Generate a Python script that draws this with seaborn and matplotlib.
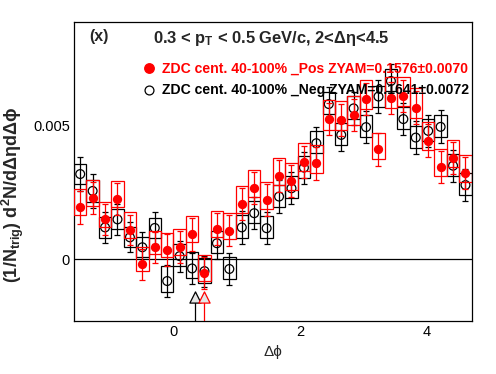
import numpy as np
import matplotlib
matplotlib.use("Agg")
import matplotlib.pyplot as plt
from matplotlib.lines import Line2D
import seaborn as sns

# 32 delta-phi bins over [-pi/2, 3pi/2]
n_bins = 32
bin_width = 2 * np.pi / n_bins
dphi = -np.pi / 2 + (np.arange(n_bins) + 0.5) * bin_width

# ZDC cent. 40-100%, positive (red, filled), values in units of 1e-3
pos_y = [1.94, 2.28, 1.49, 2.24, 1.09, -0.19, 0.45, 0.35,
         0.47, 0.93, -0.50, 1.12, 1.06, 2.06, 2.66, 2.21,
         3.11, 2.92, 3.64, 3.58, 5.22, 5.20, 5.38, 5.98,
         4.10, 6.03, 6.09, 5.66, 4.43, 3.43, 3.77, 3.21]
pos_err = [0.61, 0.60, 0.58, 0.60, 0.56, 0.58, 0.58, 0.60,
           0.60, 0.62, 0.59, 0.60, 0.58, 0.60, 0.60, 0.60,
           0.60, 0.60, 0.60, 0.62, 0.60, 0.60, 0.60, 0.60,
           0.62, 0.60, 0.60, 0.60, 0.60, 0.60, 0.60, 0.60]
pos_sys_up = [0.67, 0.68, 0.66, 0.68, 0.66, 0.66, 0.62, 0.62,
              0.66, 0.68, 0.65, 0.67, 0.66, 0.68, 0.68, 0.68,
              0.68, 0.68, 0.70, 0.70, 0.72, 0.72, 0.72, 0.71,
              0.62, 0.76, 0.72, 0.72, 0.70, 0.68, 0.68, 0.68]
pos_sys_dn = [0.30, 0.28, 0.30, 0.30, 0.30, 0.24, 0.25, 0.25,
              0.30, 0.30, 0.29, 0.28, 0.30, 0.32, 0.32, 0.32,
              0.34, 0.34, 0.36, 0.36, 0.40, 0.38, 0.38, 0.38,
              0.37, 0.38, 0.38, 0.38, 0.36, 0.34, 0.34, 0.34]

# ZDC cent. 40-100%, negative (black, open)
neg_y = [3.18, 2.55, 1.19, 1.49, 0.82, 0.45, 1.17, -0.81,
         0.12, -0.34, -0.44, 0.60, -0.36, 1.19, 1.72, 1.16,
         2.34, 2.65, 3.42, 4.33, 5.79, 4.64, 5.63, 4.93,
         6.07, 6.65, 5.23, 4.54, 4.79, 4.94, 3.49, 2.77]
neg_err = [0.63, 0.62, 0.58, 0.58, 0.56, 0.56, 0.58, 0.59,
           0.58, 0.58, 0.58, 0.58, 0.58, 0.60, 0.60, 0.60,
           0.60, 0.60, 0.60, 0.62, 0.62, 0.60, 0.62, 0.60,
           0.62, 0.62, 0.60, 0.60, 0.60, 0.62, 0.60, 0.60]
neg_sys_up = [0.38, 0.40, 0.38, 0.37, 0.37, 0.38, 0.38, 0.55,
              0.45, 0.60, 0.50, 0.45, 0.45, 0.45, 0.45, 0.45,
              0.45, 0.45, 0.45, 0.45, 0.45, 0.45, 0.45, 0.45,
              0.40, 0.45, 0.45, 0.45, 0.45, 0.45, 0.45, 0.45]
neg_sys_dn = [0.38, 0.40, 0.38, 0.37, 0.37, 0.36, 0.37, 0.40,
              0.38, 0.37, 0.45, 0.38, 0.38, 0.38, 0.38, 0.38,
              0.38, 0.38, 0.38, 0.38, 0.38, 0.38, 0.38, 0.38,
              0.40, 0.38, 0.38, 0.38, 0.38, 0.38, 0.38, 0.38]

# ZYAM minimum positions (arrows)
zyam_x = {"neg": 0.34, "pos": 0.48}
arrow_y = -1.39

pos_label = "ZDC cent. 40-100% _Pos ZYAM=0.1576\u00b10.0070"
neg_label = "ZDC cent. 40-100% _Neg ZYAM=0.1641\u00b10.0072"

sns.set_theme(style="white")
plt.rcParams["font.family"] = ["Liberation Sans", "DejaVu Sans"]
plt.rcParams["mathtext.fontset"] = "custom"
plt.rcParams["mathtext.rm"] = "Liberation Sans"
plt.rcParams["mathtext.bf"] = "Liberation Sans:bold"
plt.rcParams["mathtext.default"] = "bf"

scale = 1e-3
py = np.array(pos_y) * scale
pe = np.array(pos_err) * scale
pu = np.array(pos_sys_up) * scale
pd_ = np.array(pos_sys_dn) * scale
ny = np.array(neg_y) * scale
ne = np.array(neg_err) * scale
nu = np.array(neg_sys_up) * scale
nd = np.array(neg_sys_dn) * scale

fig = plt.figure(figsize=(4.96, 3.74), dpi=100)
ax = fig.add_axes([74 / 496, 53 / 374, 397.7 / 496, 299 / 374])
ylo, yhi = -0.0023, 0.00885

lw = 0.9
ax.axhline(0, color="black", lw=lw, zorder=1)

# negative: boxes, stat errors, open markers
ax.bar(dphi, nu + nd, bottom=ny - nd, width=bin_width, fill=False,
       edgecolor="black", linewidth=lw, zorder=2)
ax.errorbar(dphi, ny, yerr=ne, fmt="none", ecolor="black", elinewidth=lw,
            capsize=2.2, capthick=lw, zorder=3)
sns.scatterplot(x=dphi, y=ny, ax=ax, marker="o", s=40, facecolors="none",
                edgecolor="black", linewidth=0.9, zorder=4)

# positive: boxes, stat errors, filled markers
ax.bar(dphi, pu + pd_, bottom=py - pd_, width=bin_width, fill=False,
       edgecolor="red", linewidth=lw, zorder=5)
ax.errorbar(dphi, py, yerr=pe, fmt="none", ecolor="red", elinewidth=lw,
            capsize=2.2, capthick=lw, zorder=6)
sns.scatterplot(x=dphi, y=py, ax=ax, marker="o", s=45, color="red",
                edgecolor="red", linewidth=0, zorder=7)

# ZYAM arrows
for key, col in (("neg", "black"), ("pos", "red")):
    ax.vlines(zyam_x[key], ylo - 0.001, arrow_y * scale, color=col, lw=lw, zorder=8)
    ax.scatter([zyam_x[key]], [arrow_y * scale], marker="^", s=65,
               facecolor="#e6e6e6", edgecolor=col, linewidth=0.9, zorder=9)

ax.set_xlim(-np.pi / 2, 3 * np.pi / 2)
ax.set_ylim(ylo, yhi)
ax.set_xticks([0, 2, 4])
ax.set_xticks(np.arange(-1.5, 4.6, 0.5), minor=True)
ax.set_yticks([0, 0.005])
ax.set_yticklabels(["0", "0.005"])
ax.set_yticks(np.arange(-0.002, 0.0085, 0.001), minor=True)
ax.tick_params(which="both", direction="in", top=False, right=False,
               color="black", width=lw, labelsize=10.5, labelcolor="black")
ax.tick_params(axis="x", which="major", length=6.5, pad=3)
ax.tick_params(axis="x", which="minor", length=3.8)
ax.tick_params(axis="y", which="major", length=8, pad=3)
ax.tick_params(axis="y", which="minor", length=4.8)
for sp in ax.spines.values():
    sp.set_color("black")
    sp.set_linewidth(lw)
    sp.set_visible(True)
ax.set_facecolor("white")

ax.set_xlabel("\u0394\u03d5", fontsize=11, labelpad=4)
fig.text(13 / 496, 1 - 195 / 374,
         r"(1/N$_{trig}$) d$^{2}$N/d$\Delta\eta$d$\Delta\phi$",
         rotation=90, fontsize=13, fontweight="bold", ha="center", va="center")

fig.text(89 / 496, 1 - 41.5 / 374, "(x)", fontsize=11.5, fontweight="bold",
         va="baseline")
fig.text(153 / 496, 1 - 43.3 / 374,
         "0.3 < p$_{T}$ < 0.5 GeV/c, 2<\u0394\u03b7<4.5",
         fontsize=11.9, fontweight="bold", va="baseline")

handles = [
    Line2D([], [], ls="none", marker="o", markersize=6.8, color="red"),
    Line2D([], [], ls="none", marker="o", markersize=6.4,
           markerfacecolor="none", markeredgecolor="black", markeredgewidth=0.9),
]
leg = ax.legend(handles, [pos_label, neg_label], loc="upper left",
                bbox_to_anchor=(0.172, 0.867), frameon=False, borderpad=0,
                borderaxespad=0, handlelength=0.95, handletextpad=0.45,
                labelspacing=0.55, labelcolor=["red", "black"],
                prop={"weight": "bold", "size": 10.1})
leg.set_zorder(20)

fig.savefig("out.png", dpi=100, facecolor="white")
